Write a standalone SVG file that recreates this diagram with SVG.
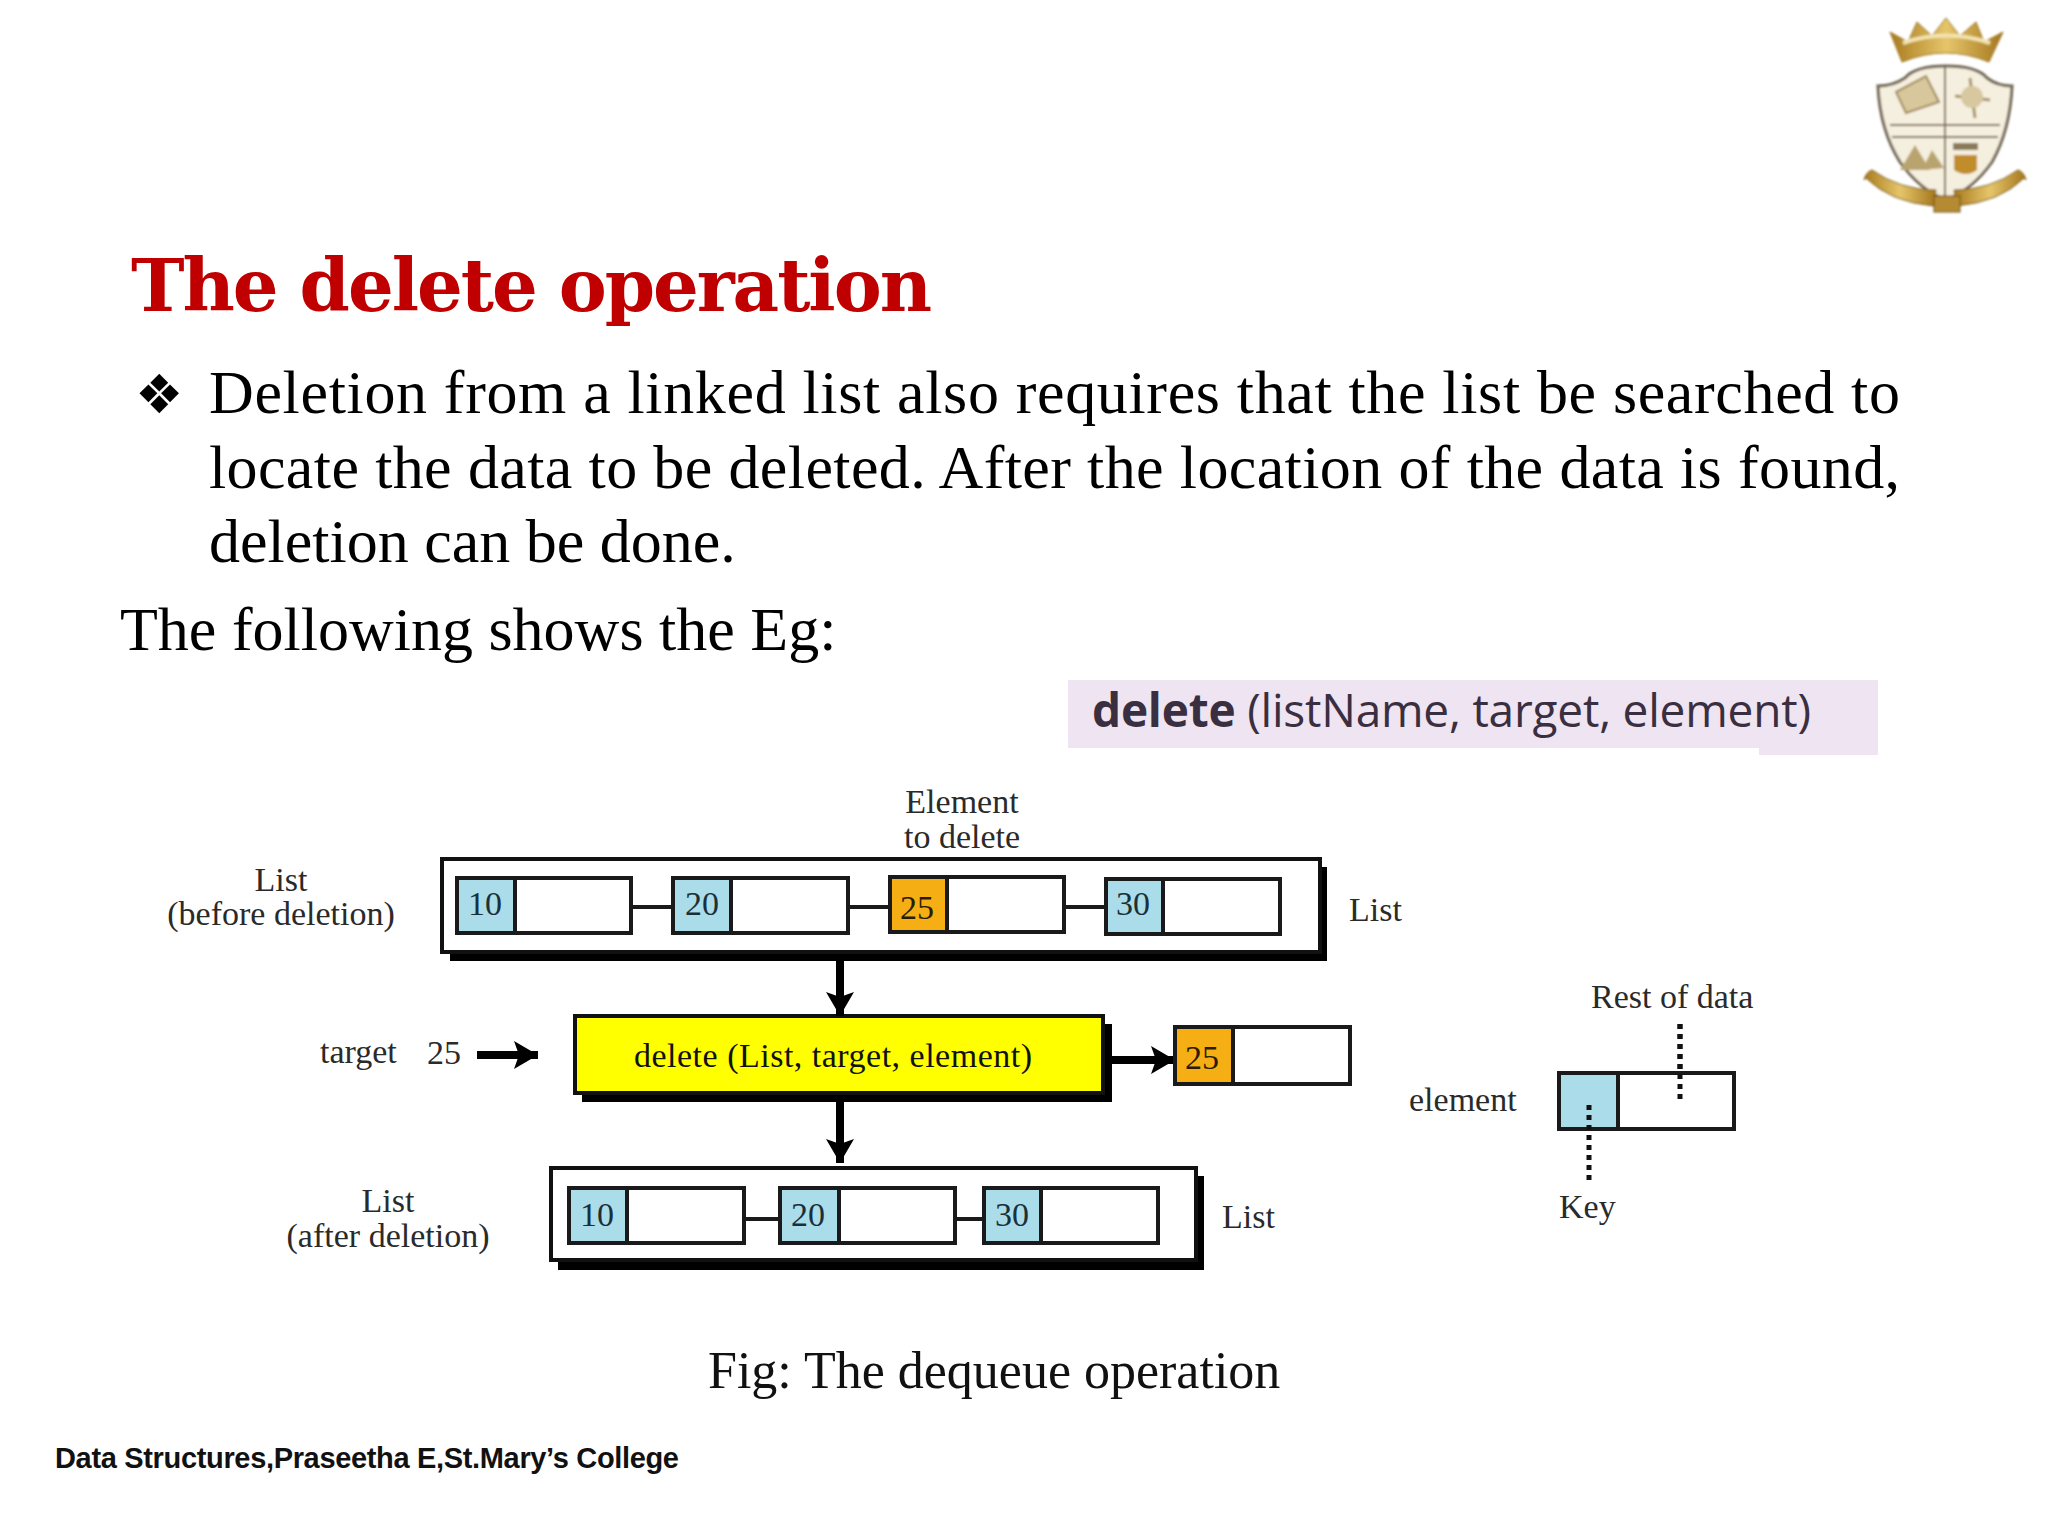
<svg xmlns="http://www.w3.org/2000/svg" width="2048" height="1536" viewBox="0 0 2048 1536">
<defs>
<style>
.s{font-family:"Liberation Serif","Times New Roman",serif;fill:#111}
.b{font-size:62px;fill:#000}
.l{font-size:34px;fill:#2a2a2a}
.n{font-size:34px;text-anchor:middle;fill:#1a3038}
.m{text-anchor:middle}
.o{fill:#fff;stroke:#111;stroke-width:4}
.sh{fill:#000}
.c{fill:none;stroke:#1a1a1a;stroke-width:4}
.a{fill:none;stroke:#000;stroke-width:8}
.d{fill:none;stroke:#111;stroke-width:5;stroke-dasharray:5 5}
.key{fill:#aadcea;stroke:#1a1a1a;stroke-width:4}
.del{fill:#f5ae14;stroke:#1a1a1a;stroke-width:4}
.rest{fill:#fff;stroke:#1a1a1a;stroke-width:4}
</style>
<marker id="h" markerUnits="userSpaceOnUse" markerWidth="30" markerHeight="30" refX="24" refY="14" orient="auto"><path d="M0 0L24 14L0 28L5 14Z" fill="#000"/></marker>
<linearGradient id="gold" x1="0" y1="0" x2="1" y2="0"><stop offset="0" stop-color="#a87a1e"/><stop offset=".5" stop-color="#e6c56a"/><stop offset="1" stop-color="#a4761c"/></linearGradient>
<filter id="soft" x="-5%" y="-5%" width="110%" height="110%"><feGaussianBlur stdDeviation="0.9"/></filter>
</defs>
<rect width="2048" height="1536" fill="#fff"/>

<g id="logo" filter="url(#soft)">
<path d="M1890 32L1908 42L1917 22L1932 36L1946 18L1960 36L1976 22L1984 42L2003 32L1989 62Q1946 44 1902 62Z" fill="url(#gold)" stroke="#9a7420" stroke-width="1"/>
<path d="M1903 43Q1946 28 1990 43" fill="none" stroke="#f3e3b0" stroke-width="4"/>
<path d="M1946 66Q1915 66 1905 78Q1893 86 1878 86Q1880 130 1900 162Q1920 190 1946 200Q1972 190 1992 162Q2010 130 2012 86Q1997 86 1987 78Q1977 66 1946 66Z" fill="#f5efdf" stroke="#6f6350" stroke-width="3"/>
<path d="M1945 67V198M1890 125H2000M1892 137H1998" fill="none" stroke="#7a6c55" stroke-width="2"/>
<path d="M1896 92L1926 76L1939 102L1906 113Z" fill="#d8c79c" stroke="#a08a5a" stroke-width="2"/>
<path d="M1970 78L1975 118M1955 96L1990 100" stroke="#a89668" stroke-width="3" fill="none"/>
<circle cx="1972" cy="97" r="11" fill="#d7c8a0"/>
<path d="M1915 145L1930 170L1900 170Z M1932 150L1944 168L1922 170Z" fill="#b9a46f"/>
<path d="M1953 143H1978V150H1953Z" fill="#8a7a5a"/>
<path d="M1954 155H1977V170Q1966 178 1954 170Z" fill="#c18c2a"/>
<path d="M1866 178Q1890 202 1934 206L1936 190Q1900 190 1872 170Q1866 172 1864 180Z" fill="url(#gold)" stroke="#7a5a18"/>
<path d="M2024 178Q2000 202 1956 206L1954 190Q1990 190 2018 170Q2024 172 2026 180Z" fill="url(#gold)" stroke="#7a5a18"/>
<rect x="1934" y="196" width="26" height="16" fill="#b58a32" stroke="#6f5218"/>
</g>

<g id="heading">
<text x="131" y="311" font-family="'DejaVu Serif',serif" font-weight="bold" font-size="72" fill="#c00000" textLength="801" lengthAdjust="spacing">The delete operation</text>
<text x="135" y="413" font-family="'DejaVu Sans',sans-serif" font-size="54" fill="#000">❖</text>
<text class="s b" x="209" y="413" textLength="1691">Deletion from a linked list also requires that the list be searched to</text>
<text class="s b" x="209" y="488" textLength="1691">locate the data to be deleted. After the location of the data is found,</text>
<text class="s b" x="209" y="562">deletion can be done.</text>
<text class="s b" x="120" y="650">The following shows the Eg:</text>
</g>

<g id="signature">
<path d="M1068 680H1878V755H1759V748H1068Z" fill="#efe4f1"/>
<text x="1092" y="727" font-family="'Open Sans',sans-serif" font-size="46" fill="#3a2f40" textLength="719"><tspan font-weight="bold">delete</tspan> (listName, target, element)</text>
</g>

<g id="list-before">
<rect class="sh" x="450" y="867" width="877" height="94"/>
<rect class="o" x="442" y="859" width="878" height="93"/>
</g>
<g id="list-after">
<rect class="sh" x="558" y="1176" width="646" height="94"/>
<rect class="o" x="551" y="1168" width="645" height="92"/>
</g>
<g id="delete-box">
<rect class="sh" x="582" y="1024" width="530" height="78"/>
<rect x="575" y="1016" width="528" height="77" fill="#ffff00" stroke="#111" stroke-width="4"/>
<text class="s m" x="833" y="1067" font-size="34" textLength="398">delete (List, target, element)</text>
</g>

<g id="connectors">
<path class="c" d="M631 907H673M848 907H890M1064 907H1106M744 1219H780M955 1219H984"/>
<path class="a" d="M840 961V1016" marker-end="url(#h)"/>
<path class="a" d="M840 1102V1163" marker-end="url(#h)"/>
<path class="a" d="M477 1055H538" marker-end="url(#h)"/>
<path class="a" d="M1112 1060H1175" marker-end="url(#h)"/>
<path class="d" d="M1680 1024V1099"/>
</g>

<g id="n10a"><rect class="rest" x="515" y="878" width="116" height="55"/><rect class="key" x="457" y="878" width="58" height="55"/><text class="s n" x="485" y="915">10</text></g>
<g id="n20a"><rect class="rest" x="731" y="878" width="117" height="55"/><rect class="key" x="673" y="878" width="58" height="55"/><text class="s n" x="702" y="915">20</text></g>
<g id="n25a"><rect class="rest" x="947" y="877" width="117" height="55"/><rect class="del" x="890" y="877" width="57" height="55"/><text class="s n" x="917" y="919" style="fill:#2a1c00">25</text></g>
<g id="n30a"><rect class="rest" x="1163" y="879" width="117" height="55"/><rect class="key" x="1106" y="879" width="57" height="55"/><text class="s n" x="1133" y="915">30</text></g>

<g id="n25out"><rect class="rest" x="1233" y="1027" width="117" height="57"/><rect class="del" x="1175" y="1027" width="58" height="57"/><text class="s n" x="1202" y="1069" style="fill:#2a1c00">25</text></g>

<g id="n10b"><rect class="rest" x="627" y="1188" width="117" height="55"/><rect class="key" x="569" y="1188" width="58" height="55"/><text class="s n" x="597" y="1226">10</text></g>
<g id="n20b"><rect class="rest" x="839" y="1188" width="116" height="55"/><rect class="key" x="780" y="1188" width="59" height="55"/><text class="s n" x="808" y="1226">20</text></g>
<g id="n30b"><rect class="rest" x="1041" y="1188" width="117" height="55"/><rect class="key" x="984" y="1188" width="57" height="55"/><text class="s n" x="1012" y="1226">30</text></g>

<g id="element"><rect class="rest" x="1618" y="1073" width="116" height="56"/><rect class="key" x="1559" y="1073" width="59" height="56"/>
<path class="d" d="M1680 1024V1099"/><path class="d" d="M1589 1105V1180"/></g>

<g id="labels">
<text class="s l m" x="962" y="813">Element</text>
<text class="s l m" x="962" y="848">to delete</text>
<text class="s l m" x="281" y="891">List</text>
<text class="s l m" x="281" y="925">(before deletion)</text>
<text class="s l" x="1349" y="921">List</text>
<text class="s l" x="320" y="1063">target</text>
<text class="s l" x="427" y="1064">25</text>
<text class="s l m" x="388" y="1212">List</text>
<text class="s l m" x="388" y="1247">(after deletion)</text>
<text class="s l" x="1222" y="1228">List</text>
<text class="s l" x="1591" y="1008">Rest of data</text>
<text class="s l" x="1409" y="1111">element</text>
<text class="s l" x="1559" y="1218">Key</text>
</g>
<text class="s" x="708" y="1388" font-size="52" fill="#000">Fig: The dequeue operation</text>
<text x="55" y="1468" font-family="'Liberation Sans',Arial,sans-serif" font-weight="bold" font-size="29" fill="#111" textLength="624">Data Structures,Praseetha E,St.Mary’s College</text>
</svg>
